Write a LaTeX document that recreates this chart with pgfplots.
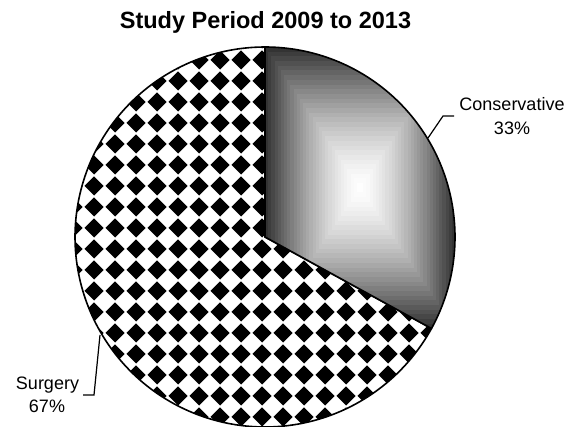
\documentclass[border=0pt]{standalone}
\usepackage{fontspec}
\setmainfont{Liberation Sans}
\usepackage{pgfplots}
\usepackage{pgfplotstable}
\pgfplotsset{compat=1.18}
\usetikzlibrary{patterns}

\pgfdeclarepatternformonly{diamonds}{\pgfqpoint{0pt}{0pt}}{\pgfqpoint{21pt}{21pt}}{\pgfqpoint{21pt}{21pt}}{%
  \pgfpathmoveto{\pgfqpoint{10.5pt}{0.5pt}}%
  \pgfpathlineto{\pgfqpoint{20.5pt}{10.5pt}}%
  \pgfpathlineto{\pgfqpoint{10.5pt}{20.5pt}}%
  \pgfpathlineto{\pgfqpoint{0.5pt}{10.5pt}}%
  \pgfpathclose
  \pgfusepath{fill}%
}

\newcommand\consbands{%
  \foreach \i in {30,29,...,1}{%
    \pgfmathsetmacro\f{\i/30}%
    \pgfmathsetmacro\c{80*(\f^1.5)}%
    \pgfpathrectanglecorners
      {\pgfpointlineattime{\f}{\pgfpointanchor{path picture bounding box}{center}}{\pgfpointanchor{path picture bounding box}{north east}}}%
      {\pgfpointlineattime{\f}{\pgfpointanchor{path picture bounding box}{center}}{\pgfpointanchor{path picture bounding box}{south west}}}%
    \pgfsetfillcolor{black!\c}%
    \pgfusepath{fill}%
  }}

\pgfplotstableread{
label value
Conservative 33
Surgery 67
}\piedata
\pgfplotstablegetelem{0}{value}\of\piedata
\let\vcons\pgfplotsretval
\pgfmathsetmacro\aend{90-3.6*\vcons}

\begin{document}
\begin{tikzpicture}
\begin{axis}[name=ax, scale only axis, width=572pt, height=426pt,
  xmin=0, xmax=572, ymin=0, ymax=426, hide axis, clip=true]
% Surgery slice
\addplot[draw=black, line width=1.6pt, line join=round, pattern=diamonds,
  domain={\aend}:-270, samples=180, variable=\t]
  ({265+190*cos(\t)},{189+190*sin(\t)}) -- (axis cs:265,189) -- cycle;
% Conservative slice
\addplot[draw=black, line width=1.6pt, line join=round, path picture={\consbands},
  domain=90:{\aend}, samples=120, variable=\t]
  ({265+190*cos(\t)},{189+190*sin(\t)}) -- (axis cs:265,189) -- cycle;
% leader lines
\draw[line width=1.2pt] (axis cs:428,288) -- (axis cs:443,310) -- (axis cs:454,310);
\draw[line width=1.2pt] (axis cs:100,91) -- (axis cs:94,31) -- (axis cs:83,31);
% labels
\node[anchor=base, font=\fontsize{18}{22}\selectfont] at (axis cs:512,315) {Conservative};
\node[anchor=base, font=\fontsize{18}{22}\selectfont] at (axis cs:512,291) {33\%};
\node[anchor=base, font=\fontsize{18}{22}\selectfont] at (axis cs:47.5,37) {Surgery};
\node[anchor=base, font=\fontsize{18}{22}\selectfont] at (axis cs:47,14) {67\%};
% title
\node[anchor=base, font=\fontsize{23.5}{28}\selectfont\bfseries] at (axis cs:265.5,397) {Study Period 2009 to 2013};
\end{axis}
\pgfresetboundingbox
\path (ax.south west) rectangle (ax.north east);
\end{tikzpicture}
\end{document}
